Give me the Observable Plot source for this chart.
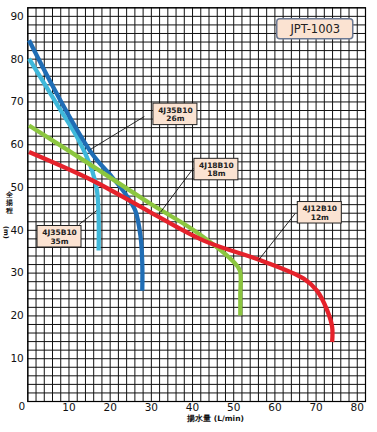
<!DOCTYPE html>
<html>
<head>
<meta charset="utf-8">
<script src="https://cdn.jsdelivr.net/npm/d3@7"></script>
<script src="https://cdn.jsdelivr.net/npm/@observablehq/plot@0.6"></script>
<style>
  html, body { margin: 0; padding: 0; background: #fff; }
  #chart svg { display: block; }
</style>
</head>
<body>
<div id="chart"></div>
<script>
// ---- Data (flow L/min vs total head m) ----
const xTicks = [10, 20, 30, 40, 50, 60, 70, 80];
const yTicks = [10, 20, 30, 40, 50, 60, 70, 80, 90];

const seriesNames = ["4J35B10 35m", "4J35B10 26m", "4J18B10 18m", "4J12B10 12m"];
const seriesColors = ["#3fb8da", "#1f6db5", "#8cc63f", "#e5222b"];

const lightBlueQ = [0.3, 7.5, 12.4, 15.6, 16.8, 17.2, 17.2];
const lightBlueH = [80.1, 68.8, 61.0, 54.0, 49.3, 43.1, 35.3];

const darkBlueQ = [0.3, 7.5, 15.6, 20.5, 23.7, 26.1, 27.4, 27.8, 27.8];
const darkBlueH = [84.4, 71.1, 57.9, 52.4, 48.5, 44.6, 38.4, 32.1, 25.9];

const greenQ = [0.3, 14.8, 29.8, 40.3, 50.0, 51.5, 51.6, 51.6];
const greenH = [64.5, 55.6, 46.2, 40.0, 32.6, 30.6, 25.0, 20.1];

const redQ = [0.3, 15.6, 29.8, 42.7, 56.5, 67.0, 70.2, 72.7, 73.9, 73.9];
const redH = [58.3, 51.7, 44.2, 37.6, 33.0, 28.7, 25.9, 21.3, 17.4, 13.9];

// annotation labels: box centre and leader line
const labelLine1 = ["4J35B10", "4J18B10", "4J12B10", "4J35B10"];
const labelLine2 = ["26m", "18m", "12m", "35m"];
const labelQ = [35.85, 45.8, 70.9, 7.7];
const labelH = [67.1, 54.2, 44.1, 38.5];
const leaderQ1 = [28.3, 40.2, 64.9, 12.5];
const leaderH1 = [66.6, 54.5, 43.9, 41.4];
const leaderQ2 = [15.2, 32.2, 56.0, 16.7];
const leaderH2 = [58.9, 44.2, 33.0, 44.6];

const modelName = "JPT-1003";
const modelQ = 69.8, modelH = 87.0;

const xLabel = "揚水量 (L/min)";
const yLabelChars = "全\n揚\n程";
const yLabelUnit = "(m)";

// ---- Build tables ----
const curves = [];
[[lightBlueQ, lightBlueH], [darkBlueQ, darkBlueH], [greenQ, greenH], [redQ, redH]].forEach(([q, h], i) => {
  q.forEach((v, j) => curves.push({series: seriesNames[i], q: v, h: h[j]}));
});
const labels = labelLine1.map((t, i) => ({
  text: t + "\n" + labelLine2[i], q: labelQ[i], h: labelH[i],
  lq1: leaderQ1[i], lh1: leaderH1[i], lq2: leaderQ2[i], lh2: leaderH2[i]
}));

const W = 377, H = 432;
const mL = 27.3, mR = 12, mT = 7.3, mB = 31;
const xDom = [0, 82], yDom = [0, 92];
const pxPerQ = (W - mL - mR) / (xDom[1] - xDom[0]);
const pxPerH = (H - mT - mB) / (yDom[1] - yDom[0]);
const boxW = 44 / pxPerQ, boxH = 21.5 / pxPerH;
const mBoxW = 76 / pxPerQ, mBoxH = 20 / pxPerH;

const chart = Plot.plot({
  width: W, height: H,
  marginLeft: mL, marginRight: mR, marginTop: mT, marginBottom: mB,
  style: {fontFamily: "DejaVu Sans, sans-serif", background: "#fff", color: "#111"},
  x: {domain: xDom},
  y: {domain: yDom},
  color: {domain: seriesNames, range: seriesColors},
  marks: [
    Plot.ruleX(d3.range(0, 83, 2), {stroke: "#111", strokeWidth: 1}),
    Plot.ruleY(d3.range(0, 93, 2), {stroke: "#111", strokeWidth: 1}),
    Plot.frame({stroke: "#000", strokeWidth: 1.2}),
    Plot.line(curves, {x: "q", y: "h", z: "series", stroke: "series", strokeWidth: 4.3,
      curve: "catmull-rom", strokeLinecap: "butt", strokeLinejoin: "round"}),
    Plot.link(labels, {x1: "lq1", y1: "lh1", x2: "lq2", y2: "lh2", stroke: "#111", strokeWidth: 0.9}),
    Plot.rect(labels, {x1: d => d.q - boxW / 2, x2: d => d.q + boxW / 2,
      y1: d => d.h - boxH / 2, y2: d => d.h + boxH / 2,
      fill: "#fbe3d2", stroke: "#222", strokeWidth: 1}),
    Plot.text(labels, {x: "q", y: "h", text: "text", fontSize: 7.5, fontWeight: "bold",
      lineHeight: 1.1, fill: "#222"}),
    Plot.rect([{q: modelQ, h: modelH}], {x1: d => d.q - mBoxW / 2, x2: d => d.q + mBoxW / 2,
      y1: d => d.h - mBoxH / 2, y2: d => d.h + mBoxH / 2, rx: 3,
      fill: "#fbe3d2", stroke: "#6b7892", strokeWidth: 1.5}),
    Plot.text([modelName], {x: modelQ, y: modelH, text: d => d, fontSize: 11.5, fill: "#222"}),
    Plot.axisX({ticks: xTicks, tickSize: 0, tickPadding: 2, fontSize: 10.5, label: null}),
    Plot.axisY({ticks: yTicks, tickSize: 0, tickPadding: 4, fontSize: 10.5, label: null}),
    Plot.text(["0"], {x: 0, y: 0, text: d => d, dx: -6, dy: 5, fontSize: 10.5}),
    Plot.text([xLabel], {x: 45.6, frameAnchor: "bottom", text: d => d, dy: 19.5,
      fontSize: 7.5, fontWeight: "bold"}),
    Plot.text([yLabelChars], {y: 46.6, frameAnchor: "left", text: d => d, dx: -22,
      fontSize: 6.5, lineHeight: 1.25, fontWeight: "bold"}),
    Plot.text([yLabelUnit], {y: 41.0, frameAnchor: "left", text: d => d, dx: -22,
      fontSize: 6.5, rotate: 90, fontWeight: "bold"})
  ]
});
document.getElementById("chart").appendChild(chart);
</script>
</body>
</html>
